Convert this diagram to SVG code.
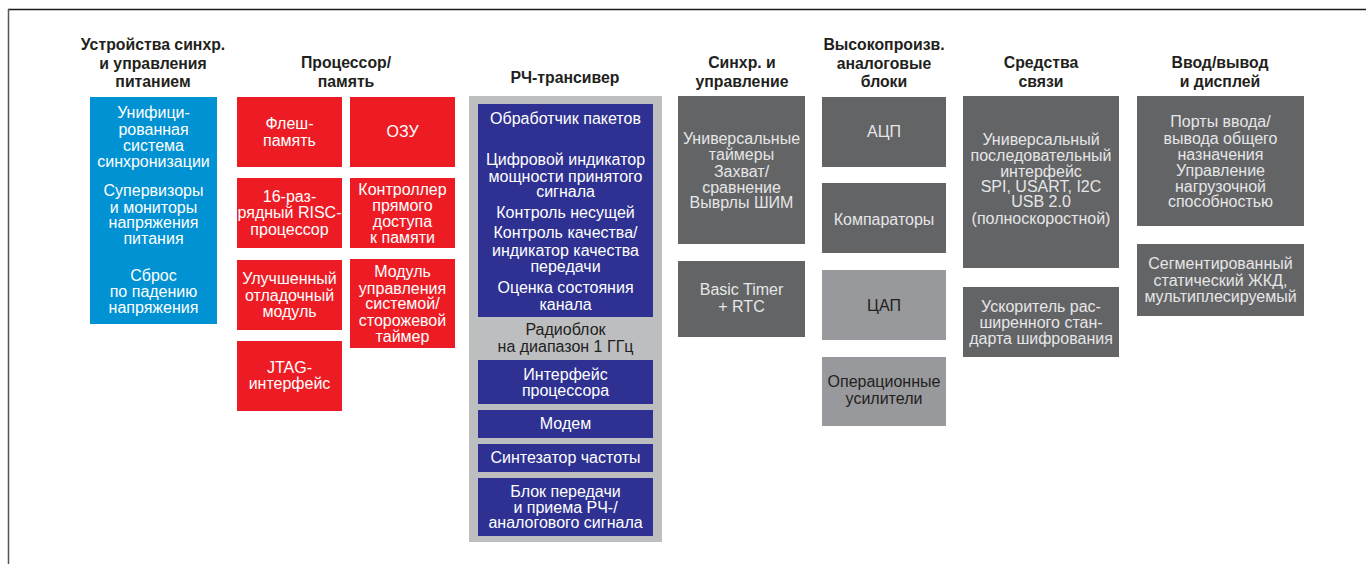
<svg xmlns="http://www.w3.org/2000/svg" width="1366" height="564" viewBox="0 0 1366 564">
<style>
.h{font-family:"Liberation Sans",Arial,sans-serif;font-weight:bold;font-size:15.8px;fill:#231f20;text-anchor:middle}
.t{font-family:"Liberation Sans",Arial,sans-serif;font-size:16px;text-anchor:middle}
.w{fill:#ffffff}
.lg{fill:#e6e6e7}
.dk{fill:#231f20}
.blue{fill:#0092d3}
.red{fill:#ed1c24}
.navy{fill:#2e3192}
.rf{fill:#bcbec0}
.dg{fill:#636466}
.mg{fill:#98999c}
</style>
<rect width="1366" height="564" fill="#ffffff"/>
<g id="frame">
<line x1="8" y1="9.5" x2="1366" y2="9.5" stroke="#1a1a1a" stroke-width="1.5"/>
<line x1="8.5" y1="9" x2="8.5" y2="564" stroke="#555555" stroke-width="1.5"/>
</g>
<g id="headers">
<text class="h" x="153" y="50">Устройства синхр.</text>
<text class="h" x="153" y="69">и управления</text>
<text class="h" x="153" y="87">питанием</text>
<text class="h" x="346" y="68">Процессор/</text>
<text class="h" x="346" y="87">память</text>
<text class="h" x="565" y="83">РЧ-трансивер</text>
<text class="h" x="742" y="68">Синхр. и</text>
<text class="h" x="742" y="87">управление</text>
<text class="h" x="884" y="50">Высокопроизв.</text>
<text class="h" x="884" y="69">аналоговые</text>
<text class="h" x="884" y="87">блоки</text>
<text class="h" x="1041" y="68">Средства</text>
<text class="h" x="1041" y="87">связи</text>
<text class="h" x="1220" y="68">Ввод/вывод</text>
<text class="h" x="1220" y="87">и дисплей</text>
</g>
<g id="n-power">
<rect class="blue" x="90" y="97" width="127" height="227"/>
<text class="t w" x="153.5" y="118">Унифици-</text>
<text class="t w" x="153.5" y="135">рованная</text>
<text class="t w" x="153.5" y="151">система</text>
<text class="t w" x="153.5" y="167">синхронизации</text>
<text class="t w" x="153.5" y="196">Супервизоры</text>
<text class="t w" x="153.5" y="213">и мониторы</text>
<text class="t w" x="153.5" y="228">напряжения</text>
<text class="t w" x="153.5" y="244">питания</text>
<text class="t w" x="153.5" y="281">Сброс</text>
<text class="t w" x="153.5" y="297">по падению</text>
<text class="t w" x="153.5" y="313">напряжения</text>
</g>
<g id="n-flash">
<rect class="red" x="237" y="97" width="105" height="70"/>
<text class="t w" x="289.5" y="129">Флеш-</text>
<text class="t w" x="289.5" y="146">память</text>
</g>
<g id="n-ram">
<rect class="red" x="350" y="97" width="105" height="70"/>
<text class="t w" x="402.5" y="137">ОЗУ</text>
</g>
<g id="n-risc">
<rect class="red" x="237" y="178" width="105" height="70"/>
<text class="t w" x="289.5" y="202">16-раз-</text>
<text class="t w" x="289.5" y="218">рядный RISC-</text>
<text class="t w" x="289.5" y="235">процессор</text>
</g>
<g id="n-dma">
<rect class="red" x="350" y="178" width="105" height="70"/>
<text class="t w" x="402.5" y="195">Контроллер</text>
<text class="t w" x="402.5" y="211">прямого</text>
<text class="t w" x="402.5" y="227">доступа</text>
<text class="t w" x="402.5" y="243">к памяти</text>
</g>
<g id="n-debug">
<rect class="red" x="237" y="260" width="105" height="70"/>
<text class="t w" x="289.5" y="284">Улучшенный</text>
<text class="t w" x="289.5" y="301">отладочный</text>
<text class="t w" x="289.5" y="317">модуль</text>
</g>
<g id="n-sysmod">
<rect class="red" x="350" y="259" width="105" height="89"/>
<text class="t w" x="402.5" y="277">Модуль</text>
<text class="t w" x="402.5" y="294">управления</text>
<text class="t w" x="402.5" y="309">системой/</text>
<text class="t w" x="402.5" y="326">сторожевой</text>
<text class="t w" x="402.5" y="342">таймер</text>
</g>
<g id="n-jtag">
<rect class="red" x="237" y="341" width="105" height="70"/>
<text class="t w" x="289.5" y="373">JTAG-</text>
<text class="t w" x="289.5" y="389">интерфейс</text>
</g>
<g id="n-rf">
<rect class="rf" x="469" y="96" width="193" height="446"/>
<rect class="navy" x="478" y="104" width="175" height="213"/>
<text class="t w" x="565.5" y="124">Обработчик пакетов</text>
<text class="t w" x="565.5" y="165">Цифровой индикатор</text>
<text class="t w" x="565.5" y="182">мощности принятого</text>
<text class="t w" x="565.5" y="197">сигнала</text>
<text class="t w" x="565.5" y="218">Контроль несущей</text>
<text class="t w" x="565.5" y="238">Контроль качества/</text>
<text class="t w" x="565.5" y="256">индикатор качества</text>
<text class="t w" x="565.5" y="272">передачи</text>
<text class="t w" x="565.5" y="293">Оценка состояния</text>
<text class="t w" x="565.5" y="310">канала</text>
<text class="t dk" x="565.5" y="335">Радиоблок</text>
<text class="t dk" x="565.5" y="352">на диапазон 1 ГГц</text>
</g>
<g id="n-cpuif">
<rect class="navy" x="478" y="360" width="175" height="44"/>
<text class="t w" x="565.5" y="380">Интерфейс</text>
<text class="t w" x="565.5" y="396">процессора</text>
</g>
<g id="n-modem">
<rect class="navy" x="478" y="410" width="175" height="28"/>
<text class="t w" x="565.5" y="429">Модем</text>
</g>
<g id="n-synth">
<rect class="navy" x="478" y="444" width="175" height="28"/>
<text class="t w" x="565.5" y="463">Синтезатор частоты</text>
</g>
<g id="n-rftx">
<rect class="navy" x="478" y="478" width="175" height="58"/>
<text class="t w" x="565.5" y="497">Блок передачи</text>
<text class="t w" x="565.5" y="513">и приема РЧ-/</text>
<text class="t w" x="565.5" y="528">аналогового сигнала</text>
</g>
<g id="n-timers">
<rect class="dg" x="678" y="96" width="127" height="148"/>
<text class="t lg" x="741.5" y="144">Универсальные</text>
<text class="t lg" x="741.5" y="160">таймеры</text>
<text class="t lg" x="741.5" y="177">Захват/</text>
<text class="t lg" x="741.5" y="193">сравнение</text>
<text class="t lg" x="741.5" y="208">Выврлы ШИМ</text>
</g>
<g id="n-rtc">
<rect class="dg" x="678" y="261" width="127" height="76"/>
<text class="t lg" x="741.5" y="295">Basic Timer</text>
<text class="t lg" x="741.5" y="312">+ RTC</text>
</g>
<g id="n-adc">
<rect class="dg" x="822" y="97" width="124" height="70"/>
<text class="t lg" x="884" y="137">АЦП</text>
</g>
<g id="n-comp">
<rect class="dg" x="822" y="183" width="124" height="70"/>
<text class="t lg" x="884" y="225">Компараторы</text>
</g>
<g id="n-dac">
<rect class="mg" x="822" y="270" width="124" height="70"/>
<text class="t dk" x="884" y="311">ЦАП</text>
</g>
<g id="n-opamp">
<rect class="mg" x="822" y="357" width="124" height="69"/>
<text class="t dk" x="884" y="387">Операционные</text>
<text class="t dk" x="884" y="404">усилители</text>
</g>
<g id="n-serial">
<rect class="dg" x="963" y="96" width="156" height="172"/>
<text class="t lg" x="1041" y="145">Универсальный</text>
<text class="t lg" x="1041" y="161">последовательный</text>
<text class="t lg" x="1041" y="177">интерфейс</text>
<text class="t lg" x="1041" y="192">SPI, USART, I2C</text>
<text class="t lg" x="1041" y="207">USB 2.0</text>
<text class="t lg" x="1041" y="224">(полноскоростной)</text>
</g>
<g id="n-aes">
<rect class="dg" x="963" y="287" width="156" height="70"/>
<text class="t lg" x="1041" y="312">Ускоритель рас-</text>
<text class="t lg" x="1041" y="328">ширенного стан-</text>
<text class="t lg" x="1041" y="344">дарта шифрования</text>
</g>
<g id="n-gpio">
<rect class="dg" x="1137" y="96" width="167" height="130"/>
<text class="t lg" x="1220.5" y="127">Порты ввода/</text>
<text class="t lg" x="1220.5" y="144">вывода общего</text>
<text class="t lg" x="1220.5" y="160">назначения</text>
<text class="t lg" x="1220.5" y="176">Управление</text>
<text class="t lg" x="1220.5" y="192">нагрузочной</text>
<text class="t lg" x="1220.5" y="207">способностью</text>
</g>
<g id="n-lcd">
<rect class="dg" x="1137" y="244" width="167" height="72"/>
<text class="t lg" x="1220.5" y="269">Сегментированный</text>
<text class="t lg" x="1220.5" y="286">статический ЖКД,</text>
<text class="t lg" x="1220.5" y="302">мультиплесируемый</text>
</g>
<g id="connectors"></g>
</svg>
